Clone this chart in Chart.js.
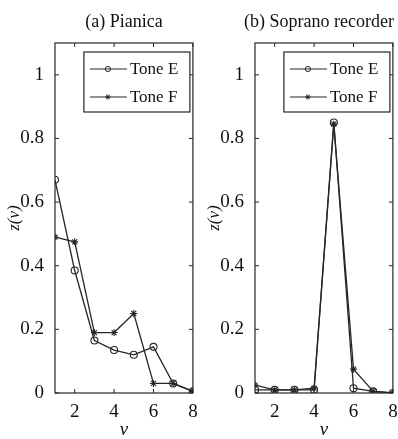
<!DOCTYPE html>
<html>
<head>
<meta charset="utf-8">
<script src="https://cdn.jsdelivr.net/npm/chart.js@4.4.1/dist/chart.umd.min.js"></script>
<style>
  html, body { margin: 0; padding: 0; background: #fff; }
  #wrap { position: relative; width: 398px; height: 439px; }
  .panel { position: absolute; top: 0; width: 198px; height: 439px; }
</style>
</head>
<body>
<div id="wrap">
  <div class="panel" style="left:0"><canvas id="chart-pianica"></canvas></div>
  <div class="panel" style="left:200px"><canvas id="chart-recorder"></canvas></div>
</div>
<script>
/* ==========================================================
   DATA
   ==========================================================*/
const harmonics = [1, 2, 3, 4, 5, 6, 7, 8];
const xTicks = [2, 4, 6, 8];
const yTicks = [0, 0.2, 0.4, 0.6, 0.8, 1];
const seriesNames = ["Tone E", "Tone F"];

const pianicaToneE = [0.67, 0.385, 0.165, 0.135, 0.12, 0.145, 0.03, 0.005];
const pianicaToneF = [0.49, 0.475, 0.19, 0.19, 0.25, 0.03, 0.03, 0.005];

const recorderToneE = [0.01, 0.01, 0.01, 0.01, 0.85, 0.015, 0.005, 0.0];
const recorderToneF = [0.025, 0.01, 0.01, 0.015, 0.845, 0.075, 0.005, 0.0];

/* ==========================================================
   STYLE
   ==========================================================*/
const INK = "#262626";
const SERIF = "'Liberation Serif', 'DejaVu Serif', serif";

/* ==========================================================
   PLUGINS: matlab-ish frame, inward ticks, title, legend box
   ==========================================================*/
const framePlugin = {
  id: "frame",
  beforeDatasetsDraw(chart) {
    const { ctx, chartArea: a, scales } = chart;
    ctx.save();
    ctx.strokeStyle = INK;
    ctx.lineWidth = 1.2;
    ctx.strokeRect(a.left, a.top, a.right - a.left, a.bottom - a.top);

    ctx.lineWidth = 1;
    const len = 4;
    ctx.beginPath();
    xTicks.forEach((v) => {
      const px = scales.x.getPixelForValue(v);
      ctx.moveTo(px, a.bottom);
      ctx.lineTo(px, a.bottom - len);
      ctx.moveTo(px, a.top);
      ctx.lineTo(px, a.top + len);
    });
    yTicks.forEach((v) => {
      const py = scales.y.getPixelForValue(v);
      ctx.moveTo(a.left, py);
      ctx.lineTo(a.left + len, py);
      ctx.moveTo(a.right, py);
      ctx.lineTo(a.right - len, py);
    });
    ctx.stroke();
    ctx.restore();
  },
};

function drawMarker(ctx, style, x, y, r) {
  ctx.beginPath();
  if (style === "circle") {
    ctx.arc(x, y, r, 0, Math.PI * 2);
  } else {
    for (let i = 0; i < 4; i++) {
      const ang = (i * Math.PI) / 4;
      ctx.moveTo(x - Math.sin(ang) * r, y - Math.cos(ang) * r);
      ctx.lineTo(x + Math.sin(ang) * r, y + Math.cos(ang) * r);
    }
  }
  ctx.stroke();
}

const decorPlugin = {
  id: "decor",
  afterDraw(chart, args, opts) {
    const { ctx, chartArea: a } = chart;
    ctx.save();

    // panel title (centred on the plot, kept inside the canvas)
    ctx.fillStyle = "#111";
    ctx.font = `18px ${SERIF}`;
    ctx.textAlign = "center";
    ctx.textBaseline = "middle";
    const tw = ctx.measureText(opts.title).width;
    const tx = Math.min((a.left + a.right) / 2, chart.width - 4 - tw / 2);
    ctx.fillText(opts.title, tx, 22);

    // legend box
    const w = 106, h = 60;
    const bx = a.right - 3 - w;
    const by = a.top + 9;
    ctx.fillStyle = "#fff";
    ctx.fillRect(bx, by, w, h);
    ctx.strokeStyle = INK;
    ctx.lineWidth = 1.2;
    ctx.strokeRect(bx, by, w, h);

    ctx.font = `17px ${SERIF}`;
    ctx.textAlign = "left";
    chart.data.datasets.forEach((ds, i) => {
      const cy = by + 17 + i * 28;
      ctx.strokeStyle = INK;
      ctx.lineWidth = 1.2;
      ctx.beginPath();
      ctx.moveTo(bx + 6, cy);
      ctx.lineTo(bx + 43, cy);
      ctx.stroke();
      ctx.lineWidth = 1;
      drawMarker(ctx, ds.pointStyle, bx + 24, cy, 2.6);
      ctx.fillStyle = "#111";
      ctx.fillText(ds.label, bx + 46, cy + 1);
    });
    ctx.restore();
  },
};

/* ==========================================================
   CHART BUILDER
   ==========================================================*/
function series(label, values, pointStyle) {
  return {
    label,
    data: harmonics.map((h, i) => ({ x: h, y: values[i] })),
    borderColor: INK,
    backgroundColor: "rgba(0,0,0,0)",
    borderWidth: 1.3,
    pointStyle,
    pointRadius: 3.5,
    pointBorderWidth: 1.1,
    pointBorderColor: INK,
    pointBackgroundColor: "rgba(0,0,0,0)",
    tension: 0,
    fill: false,
  };
}

function renderPanel(canvasId, title, toneE, toneF) {
  new Chart(document.getElementById(canvasId), {
    type: "line",
    data: {
      datasets: [
        series(seriesNames[0], toneE, "circle"),
        series(seriesNames[1], toneF, "star"),
      ],
    },
    options: {
      responsive: true,
      maintainAspectRatio: false,
      animation: false,
      layout: { padding: { top: 43, right: 5, left: 0, bottom: 0 } },
      plugins: {
        legend: { display: false },
        tooltip: { enabled: false },
        decor: { title },
      },
      scales: {
        x: {
          type: "linear",
          min: 1,
          max: 8,
          afterBuildTicks: (s) => {
            s.ticks = xTicks.map((v) => ({ value: v }));
          },
          afterFit: (s) => {
            s.height = 46;
          },
          grid: { display: false },
          border: { display: false },
          ticks: {
            padding: 0,
            color: "#111",
            font: { family: SERIF, size: 19 },
          },
          title: {
            display: true,
            text: "v",
            color: "#111",
            padding: { top: 0, bottom: 0 },
            font: { family: SERIF, size: 19, style: "italic", lineHeight: 0.9 },
          },
        },
        y: {
          min: 0,
          max: 1.1,
          afterBuildTicks: (s) => {
            s.ticks = yTicks.map((v) => ({ value: v }));
          },
          afterFit: (s) => {
            s.width = 55;
          },
          grid: { display: false },
          border: { display: false },
          ticks: {
            padding: 3,
            color: "#111",
            font: { family: SERIF, size: 19 },
            callback: (v) => String(Math.round(v * 10) / 10),
          },
          title: {
            display: true,
            text: "z(v)",
            color: "#111",
            padding: { top: 4, bottom: 0 },
            font: { family: SERIF, size: 17, style: "italic" },
          },
        },
      },
    },
    plugins: [framePlugin, decorPlugin],
  });
}

renderPanel("chart-pianica", "(a) Pianica", pianicaToneE, pianicaToneF);
renderPanel("chart-recorder", "(b) Soprano recorder", recorderToneE, recorderToneF);
</script>
</body>
</html>
